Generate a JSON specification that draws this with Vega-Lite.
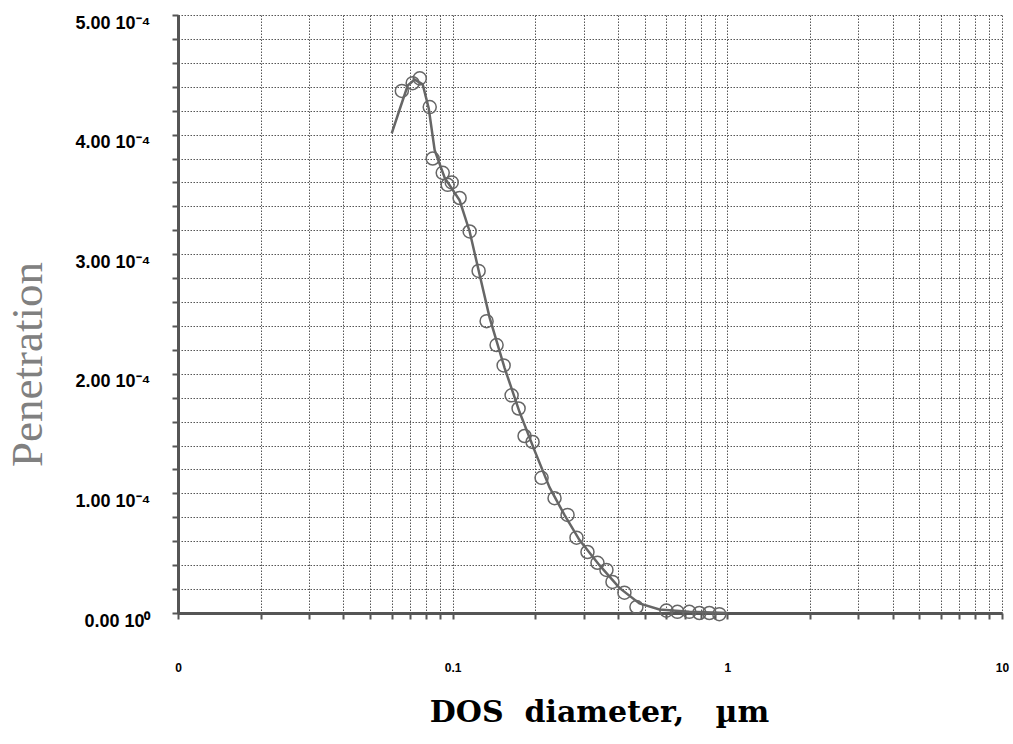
{
  "$schema": "https://vega.github.io/schema/vega-lite/v6.json",
  "autosize": {"type": "none"},
  "padding": {"left": 178, "top": 15, "right": 11, "bottom": 131},
  "width": 824,
  "height": 598,
  "background": "white",
  "config": {"view": {"stroke": null}},
  "datasets": {
    "curve": [
      {"d": 0.0600, "p": 0.000401},
      {"d": 0.0641, "p": 0.000421},
      {"d": 0.0686, "p": 0.000441},
      {"d": 0.0727, "p": 0.000446},
      {"d": 0.0778, "p": 0.000442},
      {"d": 0.0818, "p": 0.000422},
      {"d": 0.0860, "p": 0.000387},
      {"d": 0.0935, "p": 0.000364},
      {"d": 0.1060, "p": 0.000345},
      {"d": 0.1153, "p": 0.000319},
      {"d": 0.1253, "p": 0.000283},
      {"d": 0.1363, "p": 0.000247},
      {"d": 0.1545, "p": 0.000205},
      {"d": 0.1752, "p": 0.000168},
      {"d": 0.1986, "p": 0.000136},
      {"d": 0.2253, "p": 0.000105},
      {"d": 0.2553, "p": 0.000082},
      {"d": 0.2896, "p": 0.000061},
      {"d": 0.3423, "p": 0.000040},
      {"d": 0.4046, "p": 0.000021},
      {"d": 0.4786, "p": 0.000008},
      {"d": 0.566, "p": 0.000003},
      {"d": 0.727, "p": 0.000001},
      {"d": 1.0, "p": 0.0}
    ],
    "obs": [
      {"d": 0.0653, "p": 0.0004365},
      {"d": 0.0715, "p": 0.000443},
      {"d": 0.0759, "p": 0.000447},
      {"d": 0.0825, "p": 0.000423},
      {"d": 0.0846, "p": 0.000380},
      {"d": 0.0920, "p": 0.000368},
      {"d": 0.0959, "p": 0.000358},
      {"d": 0.0992, "p": 0.000360},
      {"d": 0.1060, "p": 0.000347},
      {"d": 0.1153, "p": 0.000319},
      {"d": 0.1243, "p": 0.000286},
      {"d": 0.1329, "p": 0.000244},
      {"d": 0.1445, "p": 0.000224},
      {"d": 0.1533, "p": 0.000207},
      {"d": 0.1639, "p": 0.000182},
      {"d": 0.1738, "p": 0.000171},
      {"d": 0.1827, "p": 0.000148},
      {"d": 0.1954, "p": 0.000143},
      {"d": 0.2107, "p": 0.000113},
      {"d": 0.2349, "p": 0.000096},
      {"d": 0.2620, "p": 0.000082},
      {"d": 0.2824, "p": 0.000063},
      {"d": 0.3096, "p": 0.000051},
      {"d": 0.3367, "p": 0.000042},
      {"d": 0.3630, "p": 0.000036},
      {"d": 0.3818, "p": 0.000026},
      {"d": 0.4220, "p": 0.000017},
      {"d": 0.4667, "p": 0.000005},
      {"d": 0.600, "p": 0.000002},
      {"d": 0.658, "p": 0.000001},
      {"d": 0.727, "p": 0.000001},
      {"d": 0.791, "p": 0.0},
      {"d": 0.860, "p": 0.0},
      {"d": 0.935, "p": -0.000001}
    ]
  },
  "encoding": {
    "x": {
      "field": "d",
      "type": "quantitative",
      "scale": {"type": "log", "domain": [0.01, 10], "nice": false},
      "axis": {
        "values": [0.01, 0.02, 0.03, 0.04, 0.05, 0.06, 0.07, 0.08, 0.09, 0.1, 0.2, 0.3, 0.4, 0.5, 0.6, 0.7, 0.8, 0.9, 1, 2, 3, 4, 5, 6, 7, 8, 9, 10],
        "labelExpr": "datum.value == 0.01 ? '0' : (datum.value == 0.1 ? '0.1' : (datum.value == 1 ? '1' : (datum.value == 10 ? '10' : '')))",
        "labelOverlap": false,
        "labelFlush": false,
        "labelFont": "Liberation Sans",
        "labelFontWeight": "bold",
        "labelFontSize": 12,
        "labelColor": "black",
        "labelPadding": 43,
        "tickSize": 6,
        "tickColor": "#555",
        "tickWidth": 2,
        "domainColor": "#555",
        "domainWidth": 3,
        "grid": true,
        "gridColor": "#444",
        "gridDash": [1.5, 1.5],
        "gridWidth": 1,
        "gridOpacity": 0.9,
        "title": "DOS\u00a0\u00a0diameter,\u00a0\u00a0\u00a0µm",
        "titleFont": "DejaVu Serif",
        "titleFontWeight": "bold",
        "titleFontSize": 30,
        "titleColor": "black",
        "titleX": 421,
        "titleY": 108,
        "titleAlign": "center",
        "titleBaseline": "alphabetic"
      }
    },
    "y": {
      "field": "p",
      "type": "quantitative",
      "scale": {"domain": [0, 0.0005], "nice": false, "zero": false},
      "axis": {
        "values": [0, 0.00002, 0.00004, 0.00006, 0.00008, 0.0001, 0.00012, 0.00014, 0.00016, 0.00018, 0.0002, 0.00022, 0.00024, 0.00026, 0.00028, 0.0003, 0.00032, 0.00034, 0.00036, 0.00038, 0.0004, 0.00042, 0.00044, 0.00046, 0.00048, 0.0005],
        "labelExpr": "round(datum.value * 100000) % 10 == 0 ? (datum.value == 0 ? '0.00 10⁰' : format(datum.value * 10000, '.2f') + ' 10⁻⁴') : ''",
        "labelOverlap": false,
        "labelFlush": false,
        "labelFont": "Liberation Sans",
        "labelFontWeight": "bold",
        "labelFontSize": 18,
        "labelColor": "black",
        "labelPadding": 22,
        "labelOffset": 8,
        "tickSize": 6,
        "tickColor": "#555",
        "tickWidth": 2,
        "domainColor": "#555",
        "domainWidth": 3,
        "grid": true,
        "gridColor": "#444",
        "gridDash": [1.5, 1.5],
        "gridWidth": 1,
        "gridOpacity": 0.9,
        "title": "Penetration",
        "titleFont": "Liberation Serif",
        "titleFontWeight": "normal",
        "titleFontSize": 45,
        "titleColor": "#808080",
        "titleX": -151,
        "titleY": 349,
        "titleAngle": 270,
        "titleAlign": "center",
        "titleBaseline": "middle"
      }
    }
  },
  "layer": [
    {
      "data": {"name": "curve"},
      "mark": {"type": "line", "color": "#666", "strokeWidth": 2.5, "clip": false}
    },
    {
      "data": {"name": "obs"},
      "mark": {"type": "point", "shape": "circle", "filled": false, "color": "#666", "strokeWidth": 1.5, "size": 170, "opacity": 1, "clip": false}
    }
  ]
}
